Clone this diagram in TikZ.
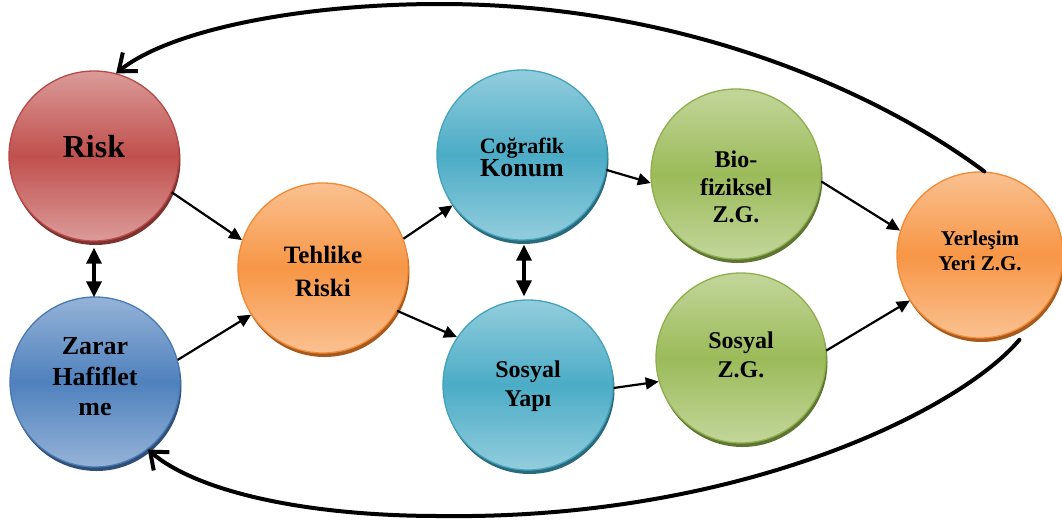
\documentclass[tikz,border=0pt]{standalone}
\usepackage{fontspec}
\newfontfamily\tnr{Liberation Serif}[BoldFont={Liberation Serif Bold}]
\usetikzlibrary{arrows.meta,calc}

% colour sets: light (lt), middle (md), border (ln), shadow (dk)
\definecolor{redlt}{HTML}{DB9B99}
\definecolor{redmd}{HTML}{C0504D}
\definecolor{redln}{HTML}{B54A47}
\definecolor{reddk}{HTML}{7E3230}
\definecolor{bluelt}{HTML}{95B3D7}
\definecolor{bluemd}{HTML}{4F81BD}
\definecolor{blueln}{HTML}{4A7AB4}
\definecolor{bluedk}{HTML}{2F4F78}
\definecolor{orangelt}{HTML}{FAC191}
\definecolor{orangemd}{HTML}{F79646}
\definecolor{orangeln}{HTML}{F08A36}
\definecolor{orangedk}{HTML}{A85A1C}
\definecolor{teallt}{HTML}{93CDDD}
\definecolor{tealmd}{HTML}{4BACC6}
\definecolor{tealln}{HTML}{43A3BD}
\definecolor{tealdk}{HTML}{2A6A7C}
\definecolor{greenlt}{HTML}{C3D69B}
\definecolor{greenmd}{HTML}{9BBB59}
\definecolor{greenln}{HTML}{8EAF4C}
\definecolor{greendk}{HTML}{5E7632}

\newcommand\fsz[2]{\tnr\fontsize{#1}{#2}\selectfont\bfseries}

\tikzset{
  ball/.style={circle, minimum size=170pt, inner sep=0pt,
    top color=#1lt, bottom color=#1lt, middle color=#1md,
    draw=#1ln, line width=1.3pt,
    preaction={fill=#1dk, transform canvas={xshift=1.5pt,yshift=-4pt}}},
  lbl/.style={align=center, inner sep=0pt, text=black},
  link/.style={line width=2.2pt, -{Triangle[length=13pt,width=12pt]}},
  pair/.style={line width=3.2pt,
    {Triangle[length=16pt,width=15pt]}-{Triangle[length=16pt,width=15pt]}},
  loop/.style={line width=4pt, line cap=round,
    -{Straight Barb[length=15pt,width=24pt,line width=4pt]}},
}

\begin{document}
\begin{tikzpicture}[x=1pt,y=-1pt]
\useasboundingbox (0,0) rectangle (1062,522);
\fill[white] (0,0) rectangle (1062,522);

% circles
\node[ball=red]    (risk)  at (94,156)  {};
\node[ball=blue]   (zarar) at (95,382)  {};
\node[ball=orange] (teh)   at (323,268) {};
\node[ball=teal]   (cog)   at (522,155) {};
\node[ball=teal]   (sosy)  at (528,385) {};
\node[ball=green]  (bio)   at (736,174) {};
\node[ball=green]  (sozg)  at (741,358) {};
\node[ball=orange, minimum size=166pt] (yer) at (980,255) {};

% labels
\node[lbl, font=\fsz{32}{37}] (trisk) at (94,147) {Risk};
\node[lbl, font=\fsz{26}{30.5}] (tzarar) at (95,377) {Zarar\\Hafiflet\\me};
\node[lbl, font=\fsz{25}{33}] (tteh) at (323,271) {Tehlike\\Riski};
\node[lbl] (tcog) at (522,157.5) {\fsz{22}{29}Coğrafik\\\fsz{26}{29}Konum};
\node[lbl, font=\fsz{24}{29}] (tsosy) at (528,386) {Sosyal\\Yapı};
\node[lbl, font=\fsz{24}{27.5}] (tbio) at (736,187) {Bio-\\fiziksel\\Z.G.};
\node[lbl, font=\fsz{24}{29}] (tsozg) at (741,355) {Sosyal\\Z.G.};
\node[lbl, font=\fsz{21}{25.5}] (tyer) at (980,251) {Yerleşim\\Yeri Z.G.};

% straight connectors
\draw[link] (risk.-25)  -- (teh.161);
\draw[link] (zarar.15)  -- (teh.213);
\draw[link] (teh.20)    -- (cog.216);
\draw[link] (teh.-30)   -- (sosy.146);
\draw[link] (cog.-10)   -- (bio.186);
\draw[link] (sosy.-2)   -- (sozg.196);
\draw[link] (bio.-5)    -- (yer.163);
\draw[link] (sozg.5)    -- (yer.213);

% two-way connectors
\draw[pair] ([yshift=-6pt]risk.south) -- ([yshift=-1pt,xshift=-1pt]zarar.north);
\draw[pair] ([xshift=2pt,yshift=-4pt]cog.south) -- ([xshift=-4pt,yshift=3pt]sosy.north);

% feedback loops
\draw[loop] (yer.87) .. controls (875,90) and (680,4) .. (440,4)
            .. controls (300,4) and (170,30) .. (risk.75);
\draw[loop] ([xshift=4pt,yshift=-9pt]yer.-65) .. controls (960,410) and (740,520) .. (440,516)
            .. controls (300,516) and (195,490) .. (zarar.-52);
\end{tikzpicture}
\end{document}
